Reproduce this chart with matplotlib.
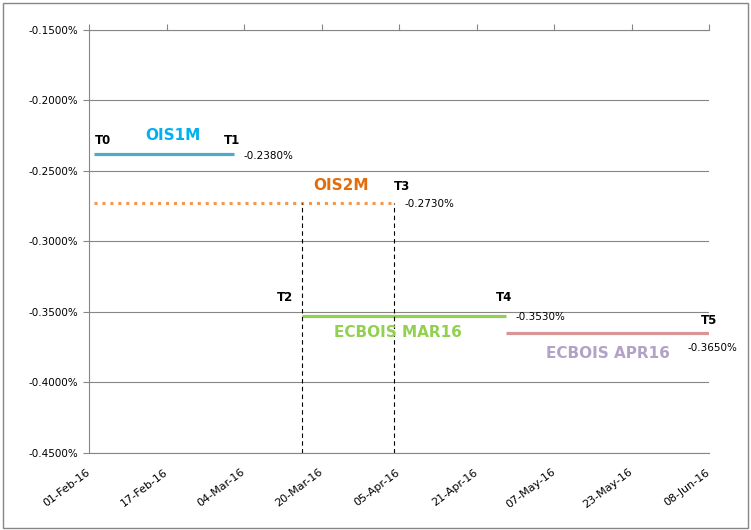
import matplotlib
matplotlib.use('Agg')
import matplotlib.dates as mdates
import matplotlib.transforms as mtransforms
import numpy as np
import pandas as pd
from matplotlib import pyplot as plt
from matplotlib.patches import Rectangle
from matplotlib.ticker import FuncFormatter

# series: start date, end date, rate (%)
names = ['OIS1M', 'OIS2M', 'ECBOIS MAR16', 'ECBOIS APR16']
starts = ['2016-02-02', '2016-02-02', '2016-03-16', '2016-04-27']
ends = ['2016-03-02', '2016-04-04', '2016-04-27', '2016-06-08']
rates = [-0.238, -0.273, -0.353, -0.365]
value_labels = ['-0.2380%', '-0.2730%', '-0.3530%', '-0.3650%']

# vertical markers T2 / T3, drawn from the axis bottom up to the OIS2M level
vline_dates = ['2016-03-16', '2016-04-04']
vline_top = -0.273

x_ticks = pd.date_range('2016-02-01', '2016-06-08', freq='16D')
y_ticks = [-0.45, -0.40, -0.35, -0.30, -0.25, -0.20, -0.15]

line_colors = ['#4BACC6', '#F79646', '#92D050', '#D99694']
text_colors = ['#00B0F0', '#E46C0A', '#92D050', '#B3A2C7']
GRAY = '#868686'


def main():
    plt.rcParams['font.family'] = ['DejaVu Sans']
    fig = plt.figure(figsize=(7.51, 5.30), dpi=100)
    ax = fig.add_axes([89 / 751, 1 - 453 / 530, 620 / 751, 423 / 530])

    s = pd.to_datetime(starts)
    e = pd.to_datetime(ends)

    # OIS lines
    ax.plot([s[0], e[0]], [rates[0]] * 2, color=line_colors[0], lw=2.3, solid_capstyle='butt')
    ax.plot([s[1], e[1]], [rates[1]] * 2, color=line_colors[1], lw=2.2, ls=(0, (1, 1.6)))
    ax.plot([s[2], e[2]], [rates[2]] * 2, color=line_colors[2], lw=2.3, solid_capstyle='butt')
    ax.plot([s[3], e[3]], [rates[3]] * 2, color=line_colors[3], lw=2.3, solid_capstyle='butt')

    for d in pd.to_datetime(vline_dates):
        ax.plot([d, d], [y_ticks[0], vline_top], color='black', lw=0.8, ls=(0, (4, 3)))

    # T labels: (date, rate, label, offset in pixels)
    t_labels = [
        (s[0], rates[0], 'T0', (9, 14)),
        (e[0], rates[0], 'T1', (-2, 14)),
        (s[2], rates[2], 'T2', (-17, 19)),
        (e[1], rates[1], 'T3', (8, 17)),
        (e[2], rates[2], 'T4', (-2, 19)),
        (e[3], rates[3], 'T5', (0, 13)),
    ]
    for d, r, txt, off in t_labels:
        ax.annotate(txt, (d, r), xytext=off, textcoords='offset pixels',
                    ha='center', va='center', fontsize=8.5, fontweight='bold', color='black')

    # value labels
    val_offsets = [(9, -2), (10, -1), (10, -1), (-21, -15)]
    for i in range(4):
        ax.annotate(value_labels[i], (e[i], rates[i]), xytext=val_offsets[i], textcoords='offset pixels',
                    ha='left', va='center', fontsize=7.5, color='black')

    # series names
    name_offsets = [(-61, 19), (-53, 18), (-108, -16), (-101, -20)]
    for i in range(4):
        ax.annotate(names[i], (e[i], rates[i]), xytext=name_offsets[i], textcoords='offset pixels',
                    ha='center', va='center', fontsize=11, fontweight='bold', color=text_colors[i])

    ax.set_xlim(x_ticks[0], x_ticks[-1])
    ax.set_ylim(y_ticks[0], y_ticks[-1])
    ax.set_xticks(x_ticks)
    ax.xaxis.set_major_formatter(mdates.DateFormatter('%d-%b-%y'))
    ax.set_yticks(y_ticks)
    ax.yaxis.set_major_formatter(FuncFormatter(lambda v, p: '%.4f%%' % v))

    ax.tick_params(axis='x', top=True, bottom=False, labeltop=False, labelbottom=True,
                   direction='out', length=4, color=GRAY, labelsize=8, pad=6)
    ax.tick_params(axis='y', direction='out', length=4, color=GRAY, labelsize=7.5, pad=4)
    shift = mtransforms.ScaledTranslation(-3 / 100, 0, fig.dpi_scale_trans)
    for lab in ax.get_xticklabels():
        lab.set_rotation(37)
        lab.set_ha('right')
        lab.set_rotation_mode('anchor')
        lab.set_transform(lab.get_transform() + shift)

    ax.grid(axis='y', color=GRAY, lw=0.8)
    ax.set_axisbelow(True)
    ax.spines['right'].set_visible(False)
    for sp in ['left', 'top', 'bottom']:
        ax.spines[sp].set_color(GRAY)
        ax.spines[sp].set_linewidth(0.8)

    # outer chart border
    fig.patches.append(Rectangle((3 / 751, 2 / 530), 745 / 751, 525 / 530, transform=fig.transFigure,
                                 fill=False, edgecolor=GRAY, lw=1))

    fig.savefig('out.png', dpi=100)


if __name__ == '__main__':
    main()
